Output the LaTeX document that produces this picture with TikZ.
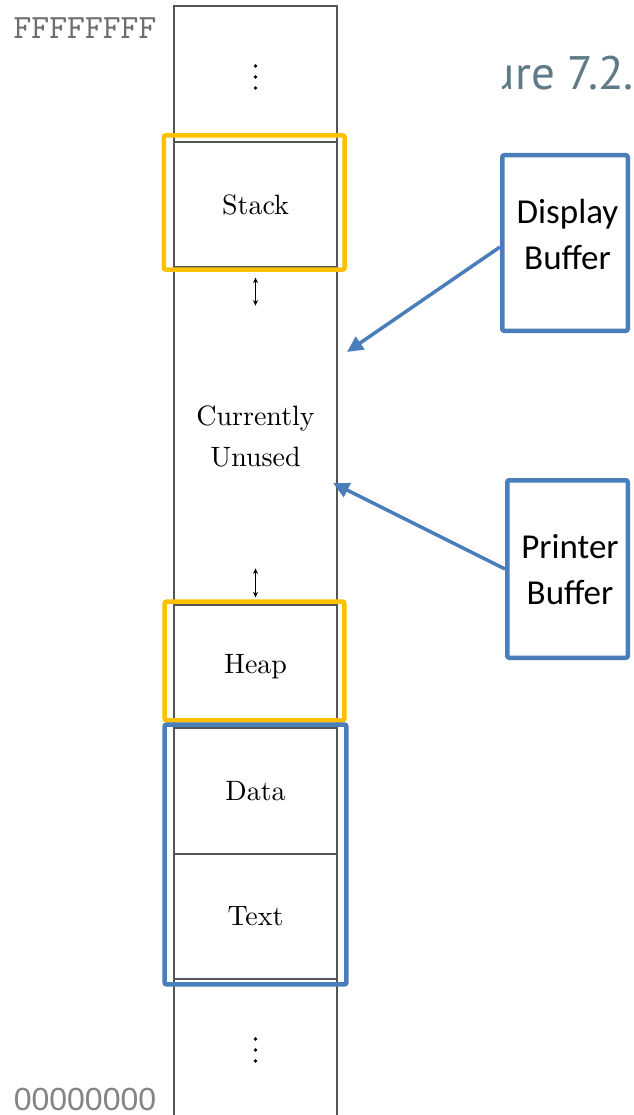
\documentclass[tikz,border=0pt]{standalone}
\usepackage{fontspec}
\newfontfamily\calibrif{Carlito}
\newfontfamily\helvf{Liberation Sans}
\newfontfamily\ptsansf{PT Sans}
\newfontfamily\segfont{lmroman10-regular}[Extension=.otf]
\newfontfamily\addrfont{lmmono10-regular}[Extension=.otf]
\usetikzlibrary{arrows.meta}

\definecolor{colline}{HTML}{555555}
\definecolor{hiyellow}{HTML}{FFC000}
\definecolor{hiblue}{HTML}{4A7EBB}
\definecolor{addrgray}{HTML}{6E6E6E}
\definecolor{captiongray}{HTML}{5E7B86}

\tikzset{
  seg/.style={draw=colline, line width=1.3pt, minimum width=163pt, inner sep=0pt,
    font=\segfont\fontsize{28}{41}\selectfont, align=center, text=black},
  hilite/.style={line width=4.5pt, rounded corners=2pt},
  bufbox/.style={draw=hiblue, line width=4.5pt, rounded corners=2pt, inner sep=0pt},
  buftext/.style={font=\calibrif\fontsize{35}{46}\selectfont, align=center, inner sep=0pt},
  callout/.style={draw=hiblue, line width=3.5pt, -{Triangle[length=16pt,width=15pt]}},
  growarrow/.style={line width=1.1pt, {Stealth[length=5.5pt,width=5pt]}-{Stealth[length=5.5pt,width=5pt]}},
}

\begin{document}
\begin{tikzpicture}[x=1pt, y=-1pt]
  % page frame
  \fill[white] (0,0) rectangle (633,1115);
  \useasboundingbox (0,0) rectangle (633,1115);

  % caption fragment at the top right
  \begin{scope}
    \clip (502,0) rectangle (633,130);
    \node[anchor=base east, inner sep=0pt, text=captiongray,
          font=\ptsansf\fontsize{47}{50}\selectfont] (caption) at (634,90) {ure 7.2.};
  \end{scope}

  % memory layout column
  \node[seg, minimum height=136pt] (upper) at (255.5,74) {};
  \node[seg, minimum height=125pt] (stack) at (255.5,204.5) {Stack};
  \node[seg, minimum height=338pt] (unused) at (255.5,436) {Currently\\Unused};
  \node[seg, minimum height=123pt] (heap) at (255.5,666.5) {Heap};
  \node[seg, minimum height=126pt] (data) at (255.5,791) {Data};
  \node[seg, minimum height=125pt] (text) at (255.5,916.5) {Text};
  \node[seg, minimum height=160pt] (lower) at (255.5,1059) {};

  % vertical ellipses
  \foreach \yy in {66,77,88} \fill (255.5,\yy) circle (1.8pt);
  \foreach \yy in {1039,1050,1061} \fill (255.5,\yy) circle (1.8pt);

  % growth arrows
  \draw[growarrow] ([yshift=-10pt]stack.south) -- ([yshift=-38pt]stack.south);
  \draw[growarrow] ([yshift=36pt]heap.north) -- ([yshift=7pt]heap.north);

  % address labels
  \node[text=addrgray, font=\addrfont\fontsize{34}{36}\selectfont, inner sep=0pt] (hiaddr) at (85,28) {FFFFFFFF};
  \node[text=addrgray!85, font=\helvf\fontsize{32}{34}\selectfont, inner sep=0pt] (loaddr) at (85,1099) {00000000};

  % highlight frames
  \draw[hilite, draw=hiyellow] ([xshift=-9.5pt,yshift=6pt]stack.north west) rectangle ([xshift=7pt,yshift=-2pt]stack.south east);
  \draw[hilite, draw=hiyellow] ([xshift=-8.75pt,yshift=2.75pt]heap.north west) rectangle ([xshift=6.75pt,yshift=8.25pt]heap.south east);
  \draw[hilite, draw=hiblue] ([xshift=-8.75pt,yshift=2.75pt]data.north west) rectangle ([xshift=8.75pt,yshift=-4.75pt]text.south east);

  % buffer call-outs
  \node[bufbox, minimum width=125.5pt, minimum height=175.5pt] (disp) at (565,243) {};
  \node[buftext] (disptext) at (567.5,234) {Display\\Buffer};
  \node[bufbox, minimum width=120.5pt, minimum height=177.5pt] (prn) at (567.5,569) {};
  \node[buftext] (prntext) at (570,570) {Printer\\Buffer};

  \coordinate (disptip) at (347,352);
  \coordinate (prntip) at (333,483);
  \draw[callout] ([yshift=-4pt]disp.west) -- (disptip);
  \draw[callout] (prn.west) -- (prntip);
\end{tikzpicture}
\end{document}
